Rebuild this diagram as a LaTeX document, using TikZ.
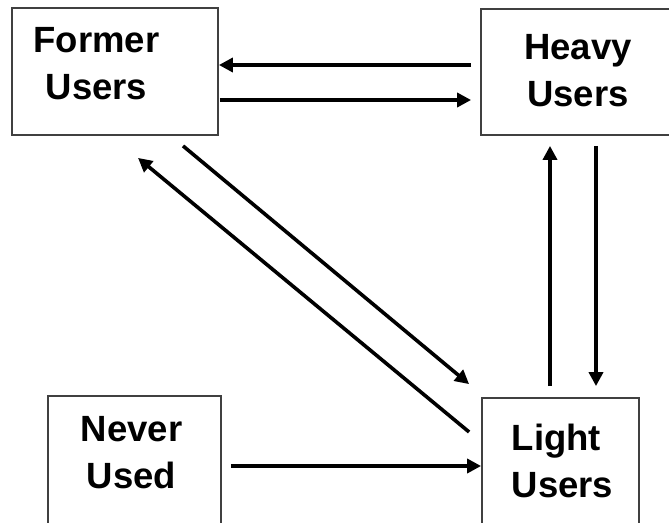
\documentclass[tikz,border=0pt]{standalone}
\usepackage{fontspec}
\setmainfont{Liberation Sans}
\usetikzlibrary{arrows.meta,calc}

\begin{document}
\begin{tikzpicture}[x=1pt,y=1pt,yscale=-1,
  box/.style={draw=black!75,line width=1.8pt,rectangle,inner sep=0pt},
  boxtext/.style={font=\bfseries\fontsize{36.5}{47}\selectfont,inner sep=0pt,align=center},
  flow/.style={line width=3.6pt,-{Triangle[length=14pt,width=14pt]}}]
\useasboundingbox (0,0) rectangle (669,522);

%Shape: Rectangle [former]
\node [box,minimum width=206pt,minimum height=127pt] (former) at (115,71.5) {};
%Shape: Rectangle [heavy]
\node [box,minimum width=190pt,minimum height=126pt] (heavy) at (576,72) {};
%Shape: Rectangle [never]
\node [box,minimum width=173pt,minimum height=134pt] (never) at (134.5,463) {};
%Shape: Rectangle [light]
\node [box,minimum width=157pt,minimum height=132pt] (light) at (560.5,464) {};

% Text Node
\node [boxtext] (formertxt) at (96.5,64) {Former\\Users};
% Text Node
\node [boxtext] (heavytxt) at (578,71) {Heavy\\Users};
% Text Node
\node [boxtext] (nevertxt) at (131.5,452.5) {Never\\Used};
% Text Node
\node [boxtext,align=left] (lighttxt) at (562.5,461) {Light\\Users};

%Straight Lines [heavy -> former]
\draw [flow] ($(heavy.west)+(-9,-7)$) -- ($(former.east)+(0,-6.5)$);
%Straight Lines [former -> heavy]
\draw [flow] ($(former.east)+(1,28.5)$) -- ($(heavy.west)+(-9,28)$);
%Straight Lines [light -> heavy]
\draw [flow] ($(light.north)+(-10.5,-11)$) -- ($(heavy.south)+(-26,10)$);
%Straight Lines [heavy -> light]
\draw [flow] ($(heavy.south)+(20,10)$) -- ($(light.north)+(35.5,-11)$);
%Straight Lines [never -> light]
\draw [flow] ($(never.east)+(9,3)$) -- ($(light.west)+(0,2)$);
%Straight Lines [former -> light]
\draw [flow] ($(former.south)+(68,10)$) -- ($(light.north west)+(-12,-13)$);
%Straight Lines [light -> former]
\draw [flow] ($(light.west)+(-12,-32)$) -- ($(former.south)+(23,22)$);

\end{tikzpicture}
\end{document}
